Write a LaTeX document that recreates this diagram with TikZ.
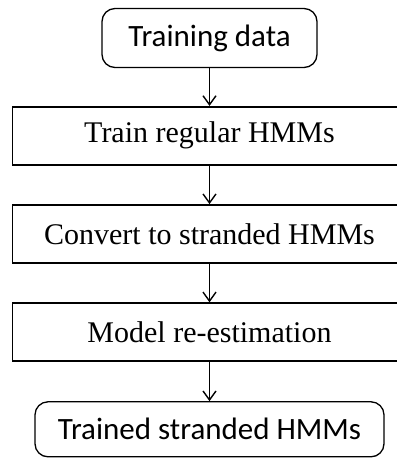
\documentclass[tikz,border=0pt]{standalone}
\usepackage{fontspec}
\setmainfont{Liberation Serif}
\newfontfamily\calibrifont{Carlito}
\usetikzlibrary{arrows.meta}

\tikzset{
  stepbox/.style={draw, line width=1.8pt, minimum width=394pt, minimum height=58pt,
    inner sep=0pt, font=\fontsize{30}{32}\selectfont},
  endbox/.style={draw, line width=1.3pt, rounded corners=13pt, inner sep=0pt,
    font=\calibrifont\fontsize{31}{33}\selectfont},
  flow/.style={-{Straight Barb[length=9pt,width=13pt]}, line width=1.4pt}
}

\begin{document}
\begin{tikzpicture}[x=1pt, y=-1pt]
  \useasboundingbox (0,0) rectangle (397,459);

  \node[endbox, minimum width=215pt, minimum height=59pt] (data) at (209.5,38) {Training data};
  \node[stepbox] (train) at (209.5,135.8) {Train regular HMMs};
  \node[stepbox] (convert) at (209.5,234) {Convert to stranded HMMs};
  \node[stepbox] (reest) at (209.5,332.2) {Model re-estimation};
  \node[endbox, minimum width=349pt, minimum height=55pt] (trained) at (209.5,429.3) {Trained stranded HMMs};

  \draw[flow] (data) -- (train);
  \draw[flow] (train) -- (convert);
  \draw[flow] (convert) -- (reest);
  \draw[flow] (reest) -- (trained);
\end{tikzpicture}
\end{document}
